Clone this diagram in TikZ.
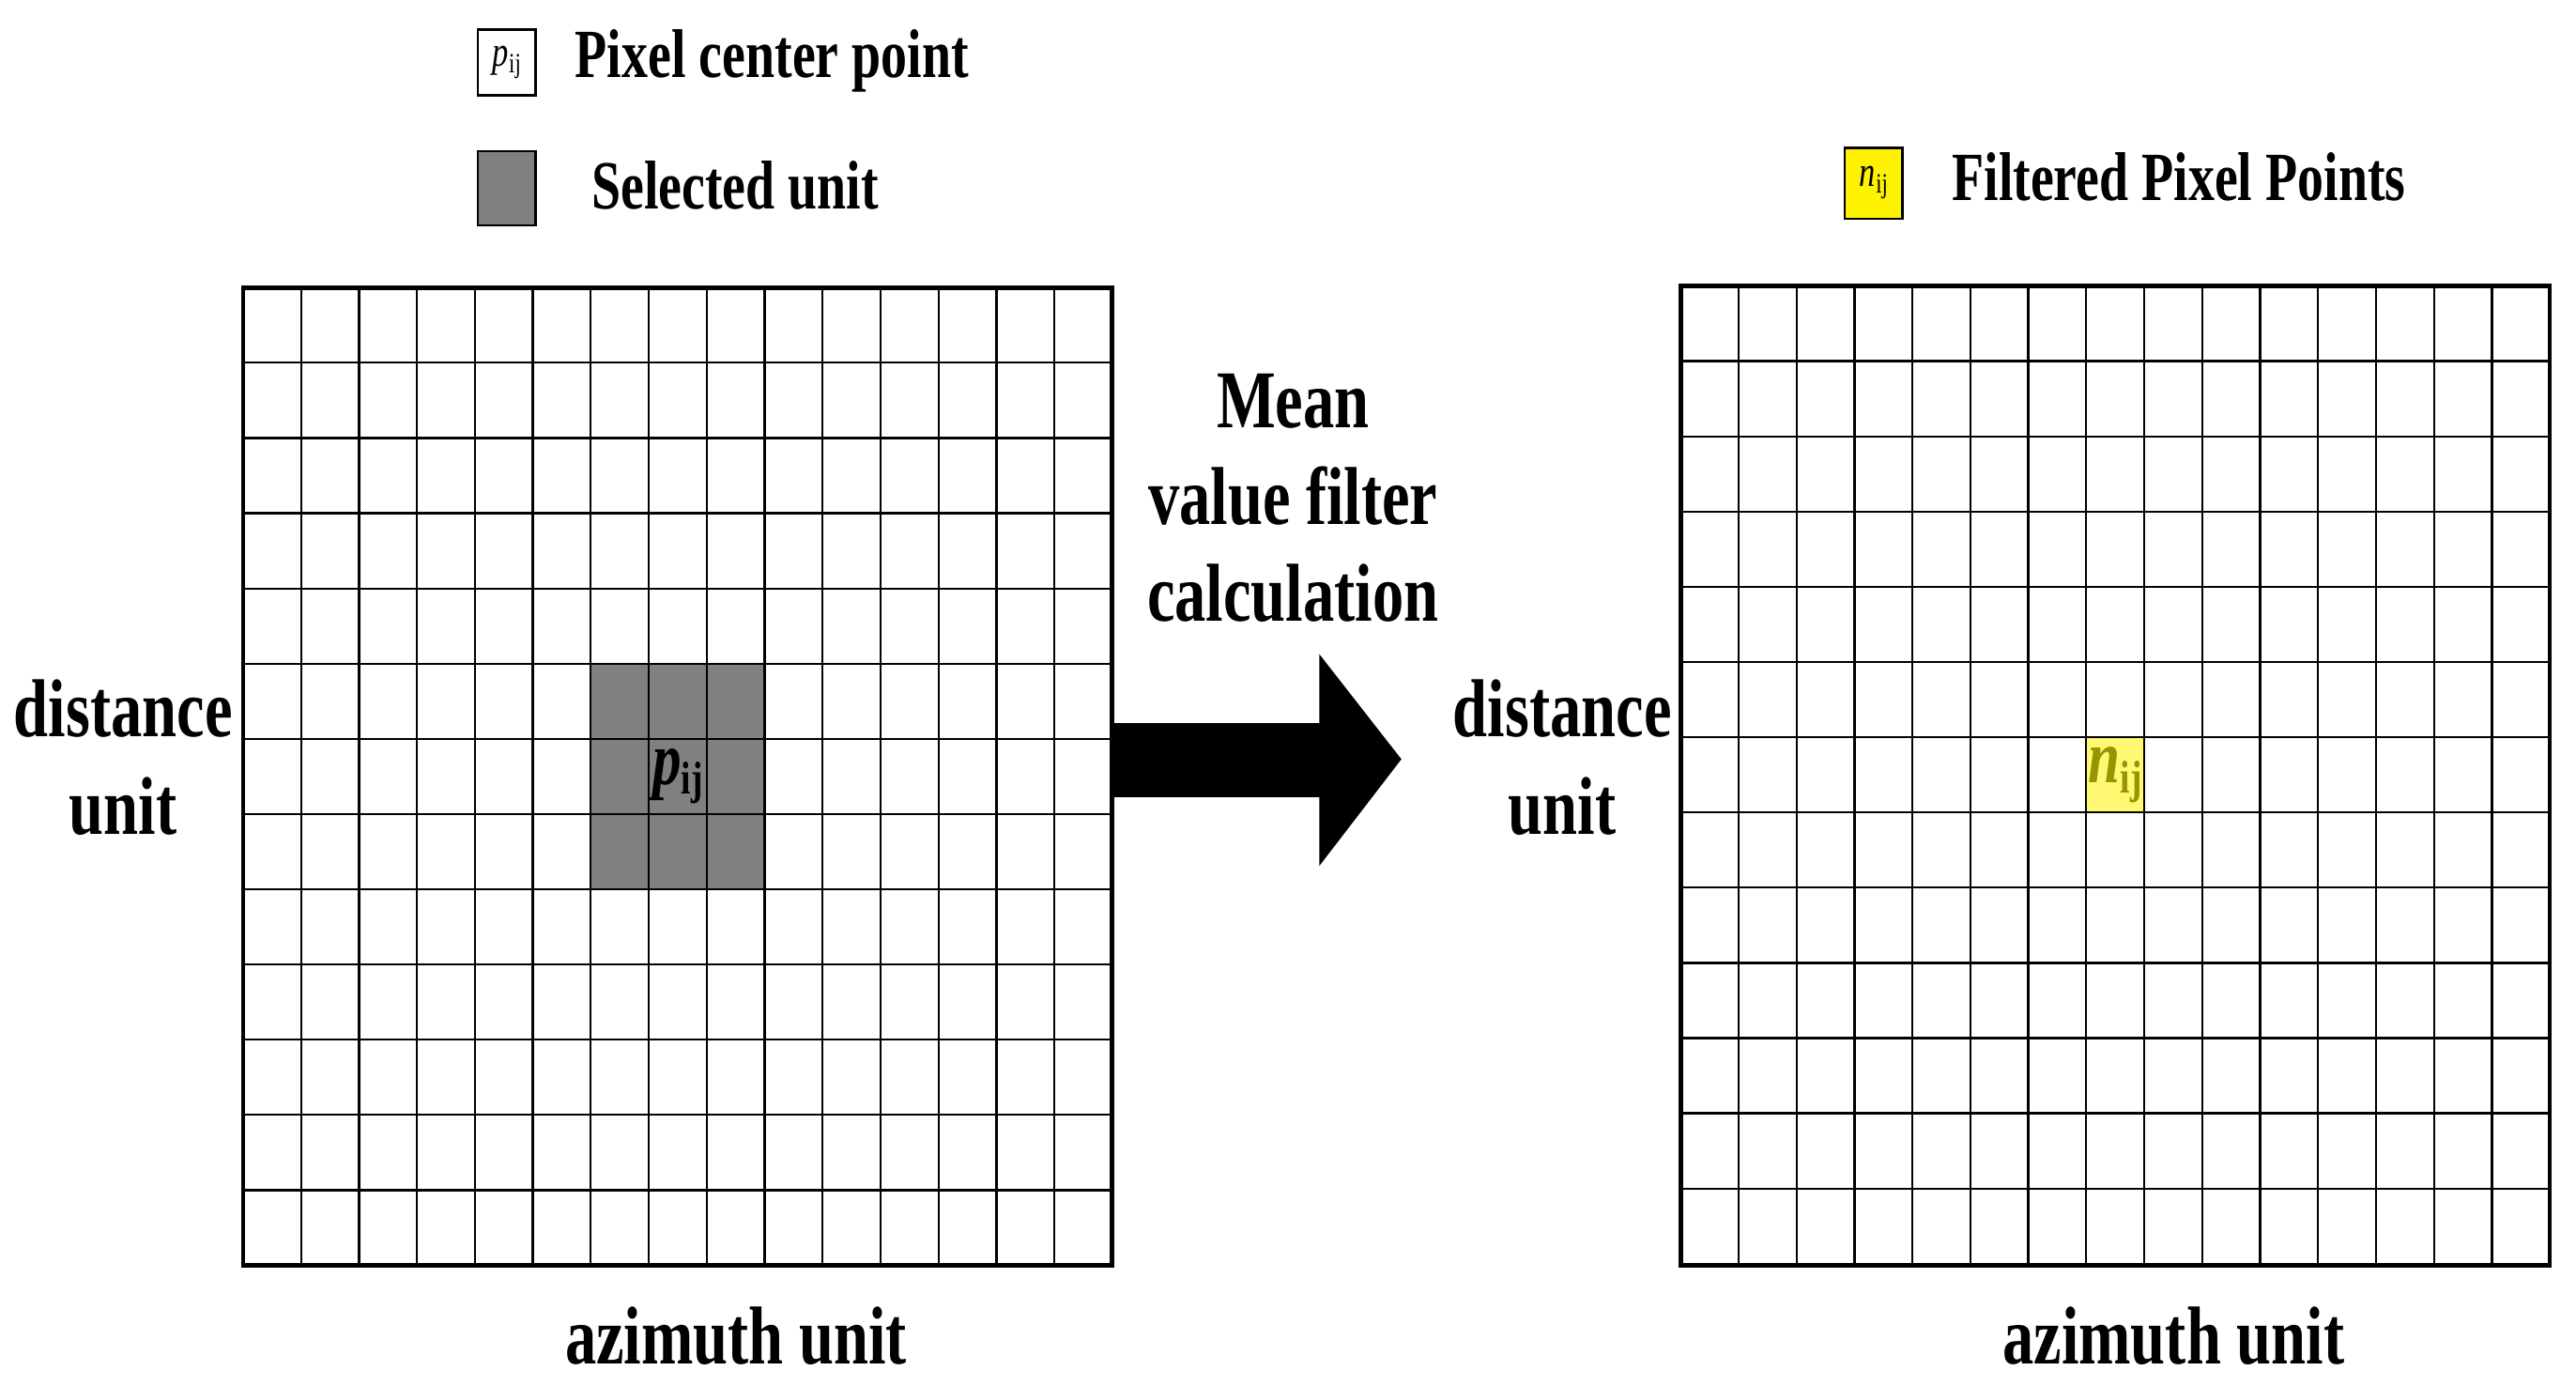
\documentclass[tikz,border=0pt]{standalone}
\usepackage{fontspec}
\setmainfont{Liberation Serif}[FakeStretch=0.76]
\begin{document}
\begin{tikzpicture}[x=1pt,y=-1pt,
  inner/.style={line width=1.3pt},
  outer/.style={line width=2.6pt},
  big/.style={font=\fontsize{50}{59}\selectfont\bfseries,align=center,inner sep=0pt},
  leg/.style={font=\fontsize{42}{48}\selectfont\bfseries,anchor=base west,inner sep=0pt}]
\useasboundingbox (0,0) rectangle (1568,843.4);
\def\cw{35.27}\def\rh{45.77}
% left grid
\fill[gray] (148+6*\cw,175+5*\rh) rectangle (148+9*\cw,175+8*\rh);
\foreach \i in {1,...,14} \draw[inner] (148+\i*\cw,175) -- (148+\i*\cw,770);
\foreach \j in {1,...,12} \draw[inner] (148,175+\j*\rh) -- (677,175+\j*\rh);
\draw[outer] (148,175) rectangle (677,770);
\node[font=\fontsize{46}{50}\selectfont\bfseries] (p) at (148+7.5*\cw,175+6.5*\rh) {\textit{p}\fontsize{28}{28}\selectfont\raisebox{-6pt}{ij}};
% right grid
\fill[yellow!55] (1023+7*\cw,174+6*\rh) rectangle (1023+8*\cw,174+7*\rh);
\foreach \i in {1,...,14} \draw[inner] (1023+\i*\cw,174) -- (1023+\i*\cw,770);
\foreach \j in {1,...,12} \draw[inner] (1023,174+\j*\rh) -- (1552,174+\j*\rh);
\draw[outer] (1023,174) rectangle (1552,770);
\node[font=\fontsize{46}{50}\selectfont\bfseries,text={rgb,255:red,150;green,150;blue,0}] (n) at (1023+7.5*\cw,174+6.5*\rh) {\textit{n}\fontsize{28}{28}\selectfont\raisebox{-6pt}{ij}};
% arrow
\fill[black] (677,440) -- (803,440) -- (803,398) -- (853,462) -- (803,527) -- (803,485) -- (677,485) -- cycle;
% labels
\node[big] (mv) at (787,303) {Mean\\value filter\\calculation};
\node[big] (dl) at (75,461) {distance\\unit};
\node[big] (dr) at (951,461) {distance\\unit};
\node[big] (al) at (448,813) {azimuth unit};
\node[big] (ar) at (1323,813) {azimuth unit};
% legend
\draw[line width=1.3pt] (291,18) rectangle (326,58);
\node[inner sep=0pt,font=\fontsize{26}{28}\selectfont] (lp) at (308.5,38) {\textit{p}\fontsize{17}{17}\selectfont\raisebox{-4pt}{ij}};
\node[leg] (t1) at (350,47) {Pixel center point};
\draw[line width=1.3pt,fill=gray] (291,92) rectangle (326,137);
\node[leg] (t2) at (360,127) {Selected unit};
\draw[line width=1.3pt,fill=yellow] (1123,90) rectangle (1158,133);
\node[inner sep=0pt,font=\fontsize{26}{28}\selectfont] (ln) at (1140.5,111) {\textit{n}\fontsize{17}{17}\selectfont\raisebox{-4pt}{ij}};
\node[leg] (t3) at (1188,122) {Filtered Pixel Points};
\end{tikzpicture}
\end{document}
